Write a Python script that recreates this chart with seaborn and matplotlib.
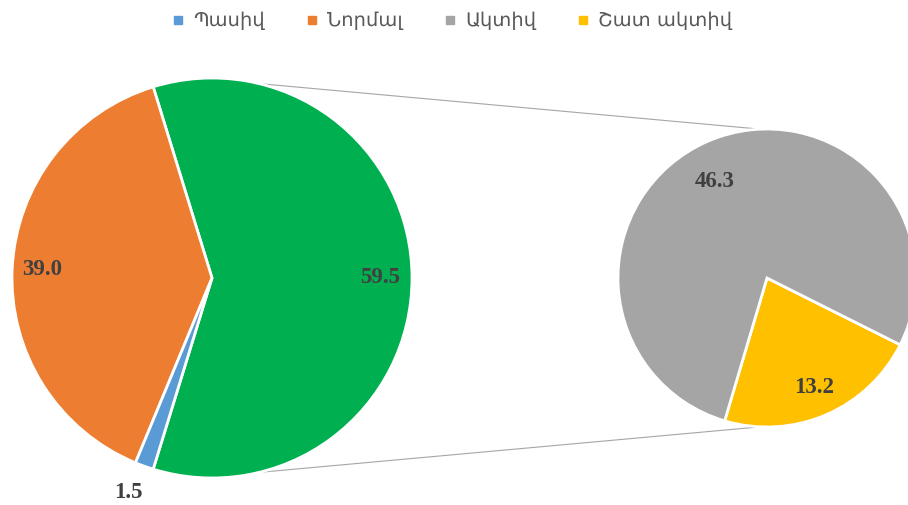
import numpy as np
import matplotlib
matplotlib.use("Agg")
import matplotlib.pyplot as plt
from matplotlib.lines import Line2D
import seaborn as sns

# Activity levels (percent)
categories = ["Պասիվ", "Նորմալ", "Ակտիվ", "Շատ ակտիվ"]
values = [1.5, 39.0, 46.3, 13.2]
colors = ["#5B9BD5", "#ED7D31", "#A5A5A5", "#FFC000"]
other_color = "#00B050"

# Main pie: passive, normal, and the combined active group
main_values = [values[2] + values[3], values[1], values[0]]
main_colors = [other_color, colors[1], colors[0]]
# Secondary pie: breakdown of the active group
sub_values = [values[3], values[2]]
sub_colors = [colors[3], colors[2]]

sns.set_theme(style="white")
plt.rcParams["font.family"] = ["DejaVu Sans"]

W, H = 908, 505
fig = plt.figure(figsize=(W / 100, H / 100), dpi=100)
ax = fig.add_axes([0, 0, 1, 1])

c1, r1 = (212, 227), 200
c2, r2 = (767, 227), 149

total = sum(main_values)
start1 = -main_values[0] / total * 180
w1, _ = ax.pie(main_values, colors=main_colors, center=c1, radius=r1,
               startangle=start1, counterclock=True, frame=True,
               wedgeprops=dict(edgecolor="white", linewidth=2))
w2, _ = ax.pie(sub_values, colors=sub_colors, center=c2, radius=r2,
               startangle=-106.5, counterclock=True, frame=True,
               wedgeprops=dict(edgecolor="white", linewidth=2))
ax.set_xlim(0, W)
ax.set_ylim(0, H)
ax.set_aspect("equal")
ax.axis("off")

# Connector lines between the two pies
for a1, a2 in [(76.4, 92.6), (-76.4, -92.6)]:
    p1 = (c1[0] + r1 * np.cos(np.radians(a1)), c1[1] + r1 * np.sin(np.radians(a1)))
    p2 = (c2[0] + r2 * np.cos(np.radians(a2)), c2[1] + r2 * np.sin(np.radians(a2)))
    ax.plot([p1[0], p2[0]], [p1[1], p2[1]], color="#A6A6A6", lw=0.8, zorder=0)

label_kw = dict(ha="center", va="center", color="#404040", fontsize=16.5,
                fontweight="bold", family=["Liberation Serif", "DejaVu Serif"])

def put_labels(wedges, vals, center, radius, dists, shifts):
    for w, v, d, s in zip(wedges, vals, dists, shifts):
        mid = np.radians((w.theta1 + w.theta2) / 2 + s)
        x = center[0] + d * radius * np.cos(mid)
        y = center[1] + d * radius * np.sin(mid)
        ax.text(x, y, f"{v:.1f}", **label_kw)

put_labels(w1, main_values, c1, r1, [0.84, 0.85, 1.15], [0, 0, -1.5])
put_labels(w2, sub_values, c2, r2, [0.80, 0.74], [0, 5])

handles = [Line2D([], [], marker="s", linestyle="none", markersize=6,
                  markerfacecolor=c, markeredgecolor=c) for c in colors]
leg = ax.legend(handles, categories, loc="upper center", bbox_to_anchor=(0.497, 1.012),
                ncol=4, frameon=False, fontsize=14, handlelength=0.8,
                handletextpad=0.4, columnspacing=2.0)
for t in leg.get_texts():
    t.set_color("#595959")

fig.savefig("out.png", dpi=100)
